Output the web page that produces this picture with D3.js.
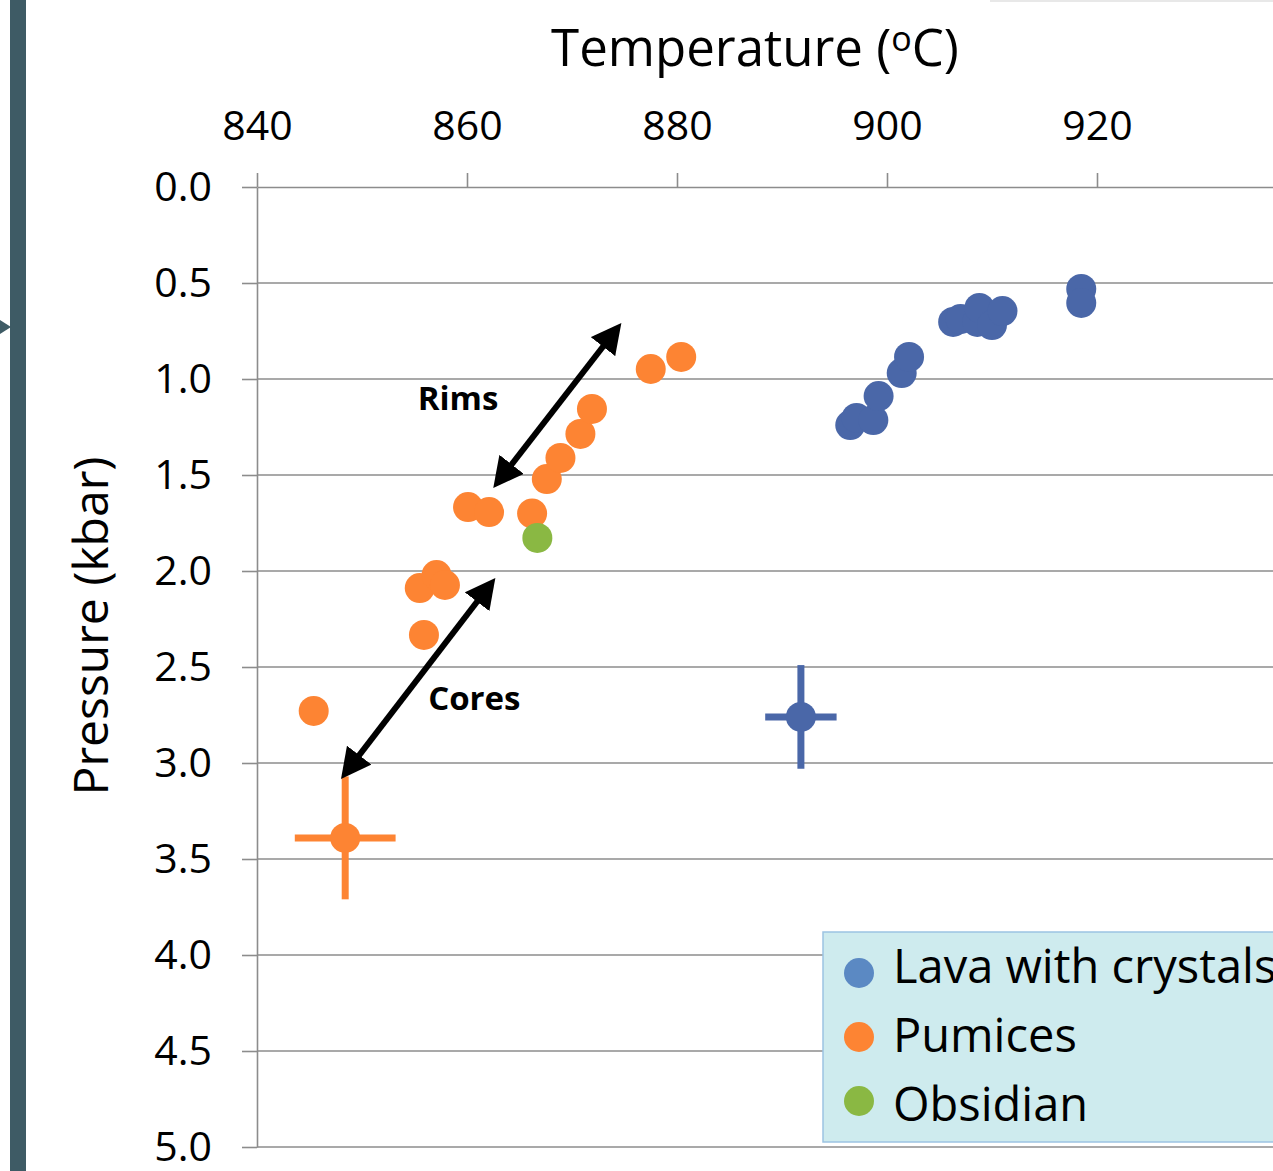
<html>
<script src='https://d3js.org/d3.v7.min.js'></script>
<style>
body {margin:0; background:#fff;}
text {font-family: 'Open Sans', 'Noto Sans', sans-serif; fill:#000;}
</style>
<body onload='init()'>
<svg width=1273 height=1171></svg>
<script>
// series values (T in deg C, P in kbar)
const lavaT = [896.5, 897.1, 898.7, 899.2, 901.4, 902.1, 906.3, 907.0, 908.6, 908.8, 910.0, 911.0, 918.5, 918.5];
const lavaP = [1.240, 1.203, 1.214, 1.089, 0.969, 0.885, 0.703, 0.688, 0.703, 0.630, 0.719, 0.646, 0.531, 0.604];

const pumiceT = [845.4, 855.9, 855.5, 857.1, 857.9, 860.1, 862.1, 866.2, 867.6, 868.9, 870.8, 871.9, 877.5, 880.4];
const pumiceP = [2.729, 2.333, 2.089, 2.021, 2.073, 1.667, 1.693, 1.700, 1.521, 1.411, 1.286, 1.156, 0.948, 0.885];

const obsidianT = [866.7];
const obsidianP = [1.828];

// points with error bars
const errSeries = ["Pumices", "Lava with crystals"];
const errT = [848.4, 891.8];
const errP = [3.39, 2.76];
const errDT = [4.8, 3.4];
const errDP = [0.32, 0.27];

const categories = ["Lava with crystals", "Pumices", "Obsidian"];
const markColors = ["#4a67a8", "#fd8433", "#8ab843"];
const legendColors = ["#5b89c3", "#fd8433", "#8ab843"];

const xTicks = [840, 860, 880, 900, 920, 940];
const yTicks = [0, 0.5, 1, 1.5, 2, 2.5, 3, 3.5, 4, 4.5, 5];

// annotation arrows (data space)
const arrowLabels = ["Rims", "Cores"];
const arrowT1 = [874.7, 862.7];
const arrowP1 = [0.708, 2.036];
const arrowT2 = [862.5, 848.0];
const arrowP2 = [1.568, 3.083];
const labelT = [855.3, 856.3];
const labelP = [1.162, 2.724];

function init() {

var svg = d3.select('svg');
var left = 257, top = 187, bottom = 1147;

var color = d3.scaleOrdinal().domain(categories).range(markColors);
var xScale = d3.scaleLinear().domain([840, 940]).range([left, 1307]);
var yScale = d3.scaleLinear().domain([0, 5]).range([top, bottom]);

// side decoration of the slide
svg.append('rect').attr('x', 10).attr('y', 0).attr('width', 16).attr('height', 1171).attr('fill', '#3e5b65');
svg.append('path').attr('d', 'M0,320 L11,327 L0,334 Z').attr('fill', '#3e5b65');
svg.append('line').attr('x1', 990).attr('x2', 1273).attr('y1', 1).attr('y2', 1)
   .attr('stroke', '#e8e8e8').attr('stroke-width', 2);

// grid
svg.append('g')
   .selectAll('line')
   .data(yTicks.slice(1))
   .enter()
   .append('line')
   .attr('x1', left).attr('x2', 1273)
   .attr('y1', d => yScale(d)).attr('y2', d => yScale(d))
   .attr('stroke', '#8c8c8c').attr('stroke-width', 1.6);

// x axis (top)
var xAxis = svg.append('g')
   .attr('transform', 'translate(0,' + top + ')')
   .call(d3.axisTop(xScale).tickValues(xTicks).tickSize(14).tickSizeOuter(0).tickPadding(33).tickFormat(d3.format('d')));

// y axis (left)
var yAxis = svg.append('g')
   .attr('transform', 'translate(' + left + ',0)')
   .call(d3.axisLeft(yScale).tickValues(yTicks).tickSize(15).tickSizeOuter(0).tickPadding(30).tickFormat(d3.format('.1f')));

[xAxis, yAxis].forEach(function(a) {
  a.selectAll('path, line').attr('stroke', '#8c8c8c').attr('stroke-width', 1.6);
  a.selectAll('text').style('font-size', '41px').style('font-family', "'Open Sans', sans-serif").attr('fill', '#000');
});
yAxis.selectAll('text').attr('dy', '0.34em');

// axis titles
var title = svg.append('text')
   .attr('x', 755).attr('y', 66)
   .attr('text-anchor', 'middle')
   .style('font-size', '51px');
title.append('tspan').text('Temperature (');
title.append('tspan').text('o').style('font-size', '34px').attr('dy', -15);
title.append('tspan').text('C)').attr('dy', 15);

svg.append('text')
   .text('Pressure (kbar)')
   .attr('text-anchor', 'middle')
   .attr('transform', 'translate(108,626) rotate(-90)')
   .style('font-size', '48px');

// error bars
var eb = svg.append('g');
errSeries.forEach(function(s, i) {
  eb.append('line')
    .attr('x1', xScale(errT[i] - errDT[i])).attr('x2', xScale(errT[i] + errDT[i]))
    .attr('y1', yScale(errP[i])).attr('y2', yScale(errP[i]))
    .attr('stroke', color(s)).attr('stroke-width', 7);
  eb.append('line')
    .attr('x1', xScale(errT[i])).attr('x2', xScale(errT[i]))
    .attr('y1', yScale(errP[i] - errDP[i])).attr('y2', yScale(errP[i] + errDP[i]))
    .attr('stroke', color(s)).attr('stroke-width', 7);
});

// points
var series = [
  {name: "Lava with crystals", t: lavaT.concat([errT[1]]), p: lavaP.concat([errP[1]])},
  {name: "Pumices", t: pumiceT.concat([errT[0]]), p: pumiceP.concat([errP[0]])},
  {name: "Obsidian", t: obsidianT, p: obsidianP}
];
series.forEach(function(s) {
  svg.append('g')
    .selectAll('circle')
    .data(s.t)
    .enter()
    .append('circle')
    .attr('cx', d => xScale(d))
    .attr('cy', (d, i) => yScale(s.p[i]))
    .attr('r', 15)
    .attr('fill', color(s.name));
});

// arrows
var head = svg.append('defs').append('marker')
   .attr('id', 'head')
   .attr('markerUnits', 'userSpaceOnUse')
   .attr('viewBox', '0 0 30 31')
   .attr('refX', 30).attr('refY', 15.5)
   .attr('markerWidth', 30).attr('markerHeight', 31)
   .attr('orient', 'auto-start-reverse');
head.append('path').attr('d', 'M0,0 L30,15.5 L0,31 Z').attr('fill', '#000');

arrowLabels.forEach(function(lab, i) {
  var x1 = xScale(arrowT1[i]), y1 = yScale(arrowP1[i]);
  var x2 = xScale(arrowT2[i]), y2 = yScale(arrowP2[i]);
  var len = Math.hypot(x2 - x1, y2 - y1), ux = (x2 - x1) / len, uy = (y2 - y1) / len;
  var cut = 20;
  svg.append('line')
    .attr('x1', x1 + ux * cut).attr('y1', y1 + uy * cut)
    .attr('x2', x2 - ux * cut).attr('y2', y2 - uy * cut)
    .attr('stroke', '#000').attr('stroke-width', 6);
  svg.append('path')
    .attr('d', 'M' + x1 + ',' + y1 + 'L' + (x1 + ux) + ',' + (y1 + uy))
    .attr('stroke', 'none').attr('fill', 'none')
    .attr('marker-start', 'url(#head)');
  svg.append('path')
    .attr('d', 'M' + (x2 - ux) + ',' + (y2 - uy) + 'L' + x2 + ',' + y2)
    .attr('stroke', 'none').attr('fill', 'none')
    .attr('marker-end', 'url(#head)');
  svg.append('text')
    .text(lab)
    .attr('x', xScale(labelT[i])).attr('y', yScale(labelP[i]))
    .style('font-size', '33px').style('font-weight', 'bold');
});

// legend
var leg = svg.append('g');
leg.append('rect')
   .attr('x', 823).attr('y', 932).attr('width', 480).attr('height', 210)
   .attr('fill', '#ceebee').attr('stroke', '#9cc3e2').attr('stroke-width', 1.5);
leg.selectAll('circle')
   .data(categories)
   .enter()
   .append('circle')
   .attr('cx', 859)
   .attr('cy', (d, i) => 973 + i * 64)
   .attr('r', 15)
   .attr('fill', (d, i) => legendColors[i]);
leg.selectAll('text')
   .data(categories)
   .enter()
   .append('text')
   .text(d => d)
   .attr('x', 893)
   .attr('y', (d, i) => 983 + i * 69)
   .style('font-size', '47px');

}
</script>
</body>
</html>
